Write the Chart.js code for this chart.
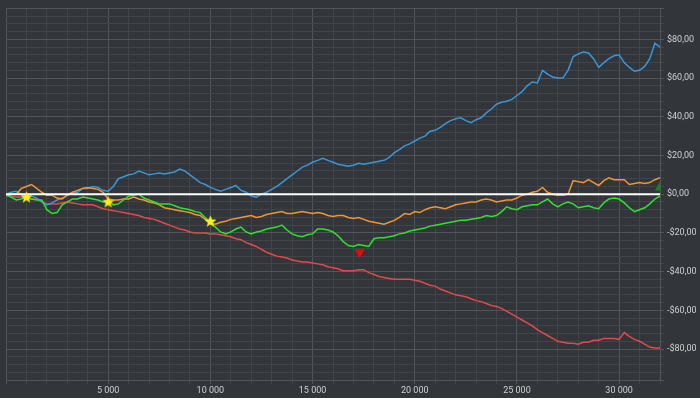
<!DOCTYPE html>
<html>
<head>
<meta charset="utf-8">
<script src="https://cdn.jsdelivr.net/npm/chart.js@4/dist/chart.umd.min.js"></script>
<style>
  html, body { margin: 0; padding: 0; background: #323539; }
  #chart { display: block; }
</style>
</head>
<body>
<canvas id="chart" width="700" height="398"></canvas>
<script>
// === Données ===
const xs = [0, 250, 500, 750, 1000, 1250, 1500, 1750, 2000, 2250,
  2500, 2750, 3000, 3250, 3500, 3750, 4000, 4250, 4500, 4750,
  5000, 5250, 5500, 5750, 6000, 6250, 6500, 6750, 7000, 7250,
  7500, 7750, 8000, 8250, 8500, 8750, 9000, 9250, 9500, 9750,
  10000, 10250, 10500, 10750, 11000, 11250, 11500, 11750, 12000, 12250,
  12500, 12750, 13000, 13250, 13500, 13750, 14000, 14250, 14500, 14750,
  15000, 15250, 15500, 15750, 16000, 16250, 16500, 16750, 17000, 17250,
  17500, 17750, 18000, 18250, 18500, 18750, 19000, 19250, 19500, 19750,
  20000, 20250, 20500, 20750, 21000, 21250, 21500, 21750, 22000, 22250,
  22500, 22750, 23000, 23250, 23500, 23750, 24000, 24250, 24500, 24750,
  25000, 25250, 25500, 25750, 26000, 26250, 26500, 26750, 27000, 27250,
  27500, 27750, 28000, 28250, 28500, 28750, 29000, 29250, 29500, 29750,
  30000, 30250, 30500, 30750, 31000, 31250, 31500, 31750, 32000];

const blueY = [0, 1, 1.5, 0, -0.5, -1, -2, -4, -5.5, -4.5,
  -3, -2, -0.5, 0.5, 1, 3, 3, 4, 3.5, 2,
  1.5, 4, 8, 9, 10, 10.5, 12, 11, 10, 10.5,
  11, 10.5, 11, 11.5, 13, 12, 10, 8, 6, 5,
  3.5, 2.5, 1.5, 2.5, 3.5, 4.5, 2, 1, -1, -1.5,
  0, 1, 2.5, 4, 6, 8, 10, 12, 14, 15,
  16.5, 17.5, 18.5, 17.5, 16.5, 15.5, 15, 14.5, 15, 16,
  15.5, 16, 16.5, 17, 17.5, 19, 21.5, 23, 25, 26,
  27.5, 29, 30, 32.5, 33, 34.5, 36.5, 38, 39, 39.5,
  38, 37, 38.5, 39.5, 42, 44, 46.5, 47.5, 48, 49,
  51, 53, 56, 58, 57.5, 64, 62, 60.5, 60, 60,
  64, 71, 72.5, 73.5, 73, 70, 65.5, 68, 70, 71.5,
  72, 68, 65.5, 63.5, 64, 66, 70, 78, 76];

const orangeY = [-0.5, 0, 0, 3, 4, 5, 3, 1, -0.5, -0.5,
  -2, -2.5, -0.5, 1, 2, 3, 3.5, 3, 2.5, 1,
  -2.5, -3, -3, -2.5, -2.5, -1.5, -2.5, -3, -4, -4.5,
  -5.5, -7, -7.5, -8, -8.5, -9, -9.5, -10.5, -11, -13,
  -15, -15.5, -14.5, -14, -13, -12.5, -12, -11.5, -11, -12,
  -11.5, -10.5, -10, -9.5, -9, -10, -10, -9.5, -9, -9.5,
  -10, -9.5, -10, -11, -11.5, -11, -11, -12, -12.5, -12,
  -13, -14, -14.5, -15, -15.5, -14.5, -13.5, -12, -10, -10.5,
  -9, -9.5, -8, -7, -6.5, -7, -7.5, -6.5, -5.5, -5,
  -4.5, -4, -4, -3, -2.5, -3, -4, -3.5, -3, -3,
  -2, -0.5, 0, 1, 1.5, 3.5, 1, 0, -0.5, -0.5,
  0, 7, 6.5, 6, 7.5, 6, 4.5, 7, 8.5, 7.5,
  7.5, 7.5, 5, 5.5, 6, 5.5, 6, 7.5, 8.5];

const greenY = [-0.5, -1.5, -3, -2.5, -1.5, -2.5, -3, -3, -8, -10,
  -9.5, -5.5, -4, -2.5, -2.5, -1.5, -2, -2.5, -3, -4,
  -3, -5.5, -5, -3, -1, -0.5, 0, -2, -3, -4,
  -5, -5, -5, -6, -7, -7.5, -8, -9, -9.5, -12,
  -15, -17, -19.5, -20.5, -19.5, -18, -17, -19.5, -20.5, -19.5,
  -19, -18, -17.5, -17, -16, -18.5, -20.5, -21.5, -22, -21,
  -20.5, -18, -18, -18.5, -19.5, -21.5, -24.5, -26.5, -27, -26,
  -26.5, -27, -23, -22.5, -22.5, -22, -21.5, -20.5, -20, -19,
  -18.5, -18, -17.5, -16.5, -16, -15.5, -15, -14.5, -14, -13.5,
  -13.5, -13, -12.5, -12, -11, -11.5, -11, -9, -6.5, -7.5,
  -8, -6.5, -6, -5.5, -5.5, -4, -2.5, -5, -6.5, -5,
  -4, -5, -7, -6.5, -6, -7, -7.5, -4.5, -2.5, -2,
  -2.5, -4.5, -7, -9, -8, -7, -5, -2.5, -1];

const redY = [0, -1, -1.5, -1.5, -2, -2.5, -2.5, -4, -5, -5,
  -5, -4.5, -4, -4.5, -5, -5.5, -5.5, -5.5, -6.5, -7.5,
  -8, -8.5, -9, -9.5, -10, -10.5, -11, -12, -12.5, -13,
  -14, -15, -16, -17, -18, -18.5, -19.5, -20, -20, -20,
  -20.5, -20.5, -21, -21.5, -22, -23, -23.5, -25, -26, -27,
  -28.5, -30, -31, -32, -32.5, -33, -34, -34.5, -35, -35,
  -35.5, -36, -36.5, -37.5, -38, -38.5, -39.5, -39.5, -39.5, -39,
  -39, -40.5, -41.5, -42.5, -43, -43.5, -44, -44, -44, -44,
  -44.5, -45, -46, -47, -47.5, -49, -50, -51, -52, -52.5,
  -53, -54, -55, -55.5, -56.5, -57.5, -58, -59, -60.5, -62,
  -63.5, -65, -66.5, -68, -70, -71.5, -73, -74.5, -76, -76.5,
  -77, -77, -77.5, -76.5, -76.5, -75.5, -75.5, -74.5, -74.5, -74.5,
  -75, -71.5, -73.5, -75, -76, -77.5, -79, -79.5, -79.5];

// Repères
const starX = [1000, 5000, 10000];
const starY = [-1.5, -4, -14];
const downX = [17300];
const downY = [-30];
const upX = [32000];
const upY = [3.5];

const pts = (px, py) => px.map((x, i) => ({ x: x, y: py[i] }));

// étoile jaune pleine
const starImg = document.createElement("canvas");
starImg.width = 13; starImg.height = 13;
(function () {
  const c = starImg.getContext("2d");
  c.fillStyle = "#ffee1a";
  c.beginPath();
  for (let i = 0; i < 10; i++) {
    const r = i % 2 === 0 ? 6.3 : 2.7;
    const a = -Math.PI / 2 + i * Math.PI / 5;
    const px = 6.5 + r * Math.cos(a), py = 6.8 + r * Math.sin(a);
    if (i === 0) c.moveTo(px, py); else c.lineTo(px, py);
  }
  c.closePath();
  c.fill();
})();

const fmtMoney = v => (v < 0 ? "-$" : "$") + Math.abs(v) + ",00";
const fmtX = v => String(v).replace(/\B(?=(\d{3})+(?!\d))/g, " ");

const bgPlugin = {
  id: "bg",
  beforeDraw(chart) {
    const c = chart.ctx;
    c.save();
    c.fillStyle = "#323539";
    c.fillRect(0, 0, chart.width, chart.height);
    c.restore();
  }
};

const line = (label, data, color) => ({
  label: label,
  data: data,
  borderColor: color,
  borderWidth: 1.5,
  pointRadius: 0,
  tension: 0,
  fill: false
});

const minorGrid = "#41454a";
const majorGrid = "#52565b";
const tickFont = { family: "'Liberation Sans Narrow', Roboto, sans-serif", size: 9 };

new Chart(document.getElementById("chart"), {
  type: "line",
  data: {
    datasets: [
      { label: "stars", data: pts(starX, starY), showLine: false,
        pointStyle: starImg, pointRadius: 6, borderWidth: 0 },
      { label: "down", data: pts(downX, downY), showLine: false,
        pointStyle: "triangle", rotation: 180, pointRadius: 6,
        backgroundColor: "#e00d0d", borderColor: "#e00d0d", borderWidth: 0 },
      { label: "up", data: pts(upX, upY), showLine: false,
        pointStyle: "triangle", pointRadius: 6,
        backgroundColor: "#0e8a12", borderColor: "#0e8a12", borderWidth: 0 },
      { label: "zero", data: pts([0, 32000], [0, 0]), borderColor: "#ffffff",
        borderWidth: 2, pointRadius: 0 },
      line("vert", pts(xs, greenY), "#2ee22e"),
      line("orange", pts(xs, orangeY), "#f39433"),
      line("bleu", pts(xs, blueY), "#3a96d8"),
      line("rouge", pts(xs, redY), "#e04a4a")
    ]
  },
  options: {
    responsive: false,
    animation: false,
    layout: { padding: { left: 5, top: 5, right: 0, bottom: 0 } },
    plugins: { legend: { display: false }, tooltip: { enabled: false } },
    scales: {
      x: {
        type: "linear",
        min: 0,
        max: 32000,
        afterFit: s => { s.height = 18; },
        ticks: {
          stepSize: 1000,
          autoSkip: false,
          maxRotation: 0,
          padding: 1,
          color: "#cfd1d3",
          font: tickFont,
          callback: v => (v > 0 && v % 5000 === 0) ? fmtX(v) : ""
        },
        grid: {
          tickLength: 4,
          color: ctx => (ctx.tick && ctx.tick.value % 5000 === 0) ? majorGrid : minorGrid
        },
        border: { color: majorGrid }
      },
      y: {
        position: "right",
        min: -96,
        max: 96,
        afterFit: s => { s.width = 40; },
        ticks: {
          stepSize: 4,
          autoSkip: false,
          padding: 3,
          color: "#cfd1d3",
          font: tickFont,
          callback: v => (v % 20 === 0) ? fmtMoney(v) : ""
        },
        grid: {
          tickLength: 4,
          color: ctx => (ctx.tick && (ctx.tick.value % 20 === 0 || Math.abs(ctx.tick.value) === 96)) ? majorGrid : minorGrid
        },
        border: { color: majorGrid }
      }
    }
  },
  plugins: [bgPlugin]
});
</script>
</body>
</html>
